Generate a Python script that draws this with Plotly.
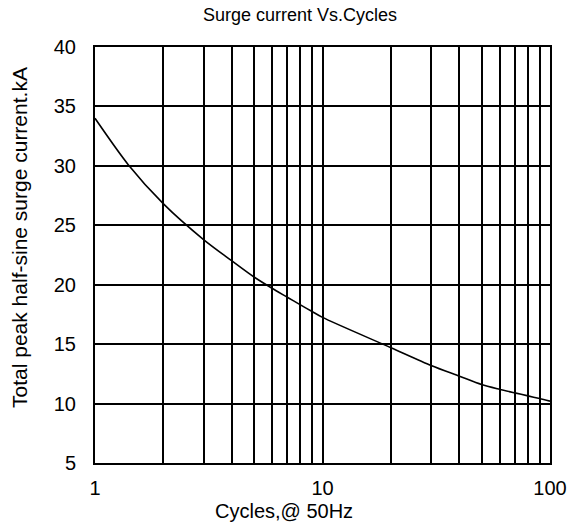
import plotly.graph_objects as go

# values
cycles = [1, 1.4, 2, 3, 4, 5, 6, 7, 8, 9, 10, 20, 30, 40, 50, 60, 70, 80, 90, 100]
surge_ka = [34.0, 30.1, 26.8, 23.8, 22.0, 20.65, 19.7, 18.95, 18.3, 17.75, 17.25,
            14.7, 13.2, 12.3, 11.6, 11.2, 10.9, 10.65, 10.42, 10.2]

x_ticks = [1, 10, 100]
y_ticks = [5, 10, 15, 20, 25, 30, 35, 40]

font = "Liberation Sans, Arial, sans-serif"

fig = go.Figure()
fig.add_trace(go.Scatter(
    x=cycles, y=surge_ka, mode="lines",
    line=dict(color="black", width=1.6, shape="spline", smoothing=0.8),
    showlegend=False, hoverinfo="skip",
))

fig.update_layout(
    width=569, height=528,
    margin=dict(l=95, r=19, t=47, b=65, autoexpand=False),
    paper_bgcolor="white", plot_bgcolor="white",
    font=dict(family=font, color="black"),
    annotations=[
        dict(text="Surge current Vs.Cycles", xref="paper", yref="paper",
             x=0.45, y=1, yshift=32, xanchor="center", yanchor="middle",
             showarrow=False, font=dict(size=18)),
        dict(text="Cycles,@ 50Hz", xref="paper", yref="paper",
             x=0.415, y=0, yshift=-48, xanchor="center", yanchor="middle",
             showarrow=False, font=dict(size=20)),
        dict(text="Total peak half-sine surge current.kA", xref="paper", yref="paper",
             x=0, xshift=-75, y=0.541, xanchor="center", yanchor="middle",
             textangle=-90, showarrow=False, font=dict(size=21)),
    ],
)
fig.update_xaxes(
    type="log", range=[0, 2], automargin=False,
    tickvals=x_ticks, ticktext=[str(v) for v in x_ticks],
    tickfont=dict(size=20), ticks="", ticklabelstandoff=6,
    showgrid=True, gridcolor="black", gridwidth=1.6,
    minor=dict(dtick="D1", showgrid=True, gridcolor="black", gridwidth=1.6, ticks=""),
    showline=True, linecolor="black", linewidth=2, mirror=True,
    zeroline=False,
)
fig.update_yaxes(
    range=[5, 40], tickvals=y_ticks, automargin=False,
    tickfont=dict(size=20), ticks="", ticklabelstandoff=13,
    showgrid=True, gridcolor="black", gridwidth=1.6,
    showline=True, linecolor="black", linewidth=2, mirror=True,
    zeroline=False,
)

# drop the page's default body margin so the figure sits at the window's corner
fig.write_html("out.html", config={"displayModeBar": False},
               post_script="document.body.style.margin='0';")
